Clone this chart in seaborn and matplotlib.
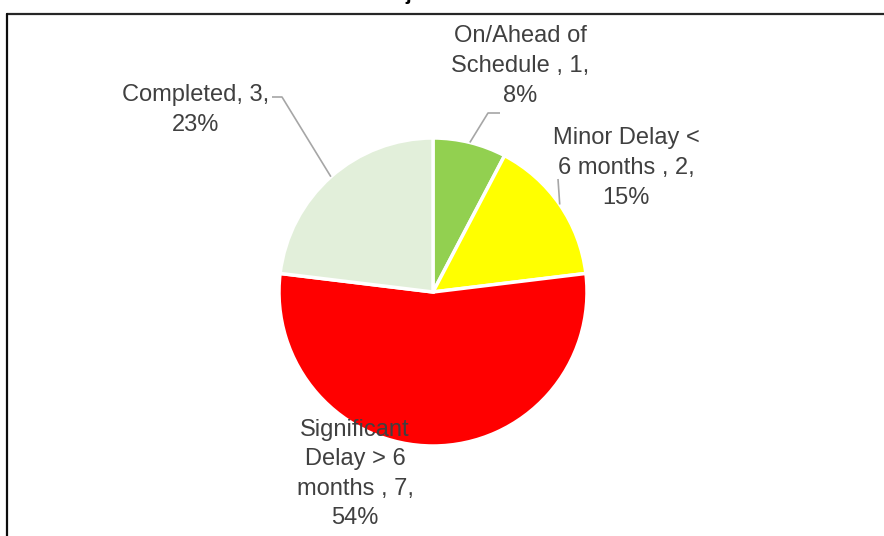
import numpy as np
import matplotlib
matplotlib.use("Agg")
import matplotlib.pyplot as plt
import seaborn as sns

# data
categories = ["On/Ahead of\nSchedule ", "Minor Delay <\n6 months ",
              "Significant\nDelay > 6\nmonths ", "Completed"]
counts = [1, 2, 7, 3]
colors = ["#92D050", "#FFFF00", "#FF0000", "#E2EFDA"]
title = "Project Status - 13"

# label centres and leader elbows in figure pixels (x, y from top)
label_pos = [(520, 66), (626, 168), (355, 474), (196, 110)]
leaders = [[(488, 113), (500, 113)], [(558, 179)], None, [(282, 97), (272, 97)]]

sns.set_style("white")
plt.rcParams["font.family"] = ["Liberation Sans", "DejaVu Sans"]

W, H = 884, 536
fig = plt.figure(figsize=(W / 100, H / 100), dpi=100)
ax = fig.add_axes([0, 0, 1, 1])

cx, cy, r = 433, H - 292, 154
wedges, _ = ax.pie(counts, colors=colors, startangle=90, counterclock=False,
                   radius=r, center=(cx, cy), frame=True,
                   wedgeprops=dict(edgecolor="white", linewidth=2.5))
ax.set_xlim(0, W)
ax.set_ylim(0, H)
ax.set_aspect("equal")
ax.axis("off")

total = sum(counts)
for w, cat, n, (lx, ly), lead in zip(wedges, categories, counts, label_pos, leaders):
    pct = round(100 * n / total)
    ax.text(lx, H - ly, f"{cat}, {n},\n{pct}%", ha="center", va="center",
            fontsize=17, color="#404040", linespacing=1.45)
    if lead:
        mid = np.deg2rad((w.theta1 + w.theta2) / 2)
        xs = [cx + r * np.cos(mid)] + [p[0] for p in lead]
        ys = [cy + r * np.sin(mid)] + [H - p[1] for p in lead]
        ax.plot(xs, ys, color="#A6A6A6", lw=1.2, solid_capstyle="butt")

# chart frame (cropped in the reference)
ax.plot([7, W], [H - 14, H - 14], color="#262626", lw=1.6, clip_on=False)
ax.plot([7, 7], [0, H - 14], color="#0D0D0D", lw=1.6, clip_on=False)

# title sits mostly above the crop, as in the reference
ax.text(462, H, title, ha="center", va="baseline", fontsize=15,
        fontweight="bold", color="black", clip_on=False)

fig.savefig("out.png", dpi=100)
